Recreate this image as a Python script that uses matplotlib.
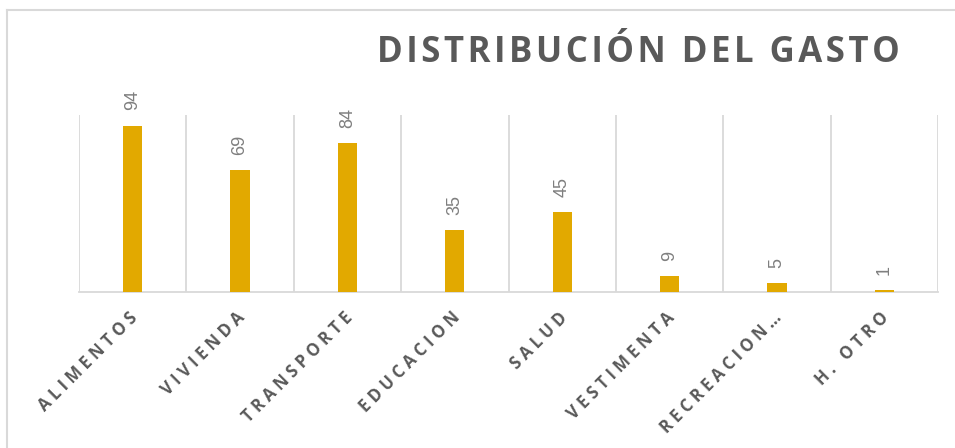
import numpy as np
import matplotlib.pyplot as plt
from matplotlib.lines import Line2D

# Datos del gráfico
categorias = ["ALIMENTOS", "VIVIENDA", "TRANSPORTE", "EDUCACION",
              "SALUD", "VESTIMENTA", "RECREACION…", "H. OTRO"]
gasto = [94, 69, 84, 35, 45, 9, 5, 1]
titulo = "DISTRIBUCIÓN DEL GASTO"

color_barra = "#E2A900"
color_texto = "#595959"
color_grid = "#D9D9D9"


def espaciar(texto, sep):
    # separa letras para imitar el espaciado de caracteres de Excel
    return sep.join(texto)


fig = plt.figure(figsize=(9.55, 4.48), dpi=100)
ax = fig.add_axes([79 / 955, 1 - 292 / 448, (938 - 79) / 955, (292 - 115) / 448])

x = np.arange(len(categorias))
barras = ax.bar(x, gasto, width=0.18, color=color_barra, zorder=3)

ax.set_xlim(-0.5, len(categorias) - 0.5)
ax.set_ylim(0, 100)

# Líneas verticales entre categorías
for b in np.arange(len(categorias) + 1) - 0.5:
    ax.axvline(b, color=color_grid, lw=1.3, zorder=1)

for s in ["top", "right", "left"]:
    ax.spines[s].set_visible(False)
ax.spines["bottom"].set_color(color_grid)
ax.spines["bottom"].set_linewidth(1.3)
ax.set_yticks([])

ax.set_xticks(x - 0.04)
ax.set_xticklabels([espaciar(c, " ") for c in categorias],
                   rotation=45, ha="right", va="top", rotation_mode="anchor",
                   fontsize=12, fontweight="bold", color=color_texto,
                   family=["Open Sans", "DejaVu Sans"])
ax.tick_params(axis="x", length=0, pad=12)

# Etiquetas de datos
for xi, v in zip(x, gasto):
    ax.annotate(str(v), (xi, v), xytext=(0, 11), textcoords="offset points",
                rotation=90, ha="center", va="bottom", fontsize=13,
                color="#7F7F7F", family=["Liberation Sans", "DejaVu Sans"])

fig.text(638 / 955, 1 - 53 / 448, espaciar(titulo, "\u200a"),
         ha="center", va="center", fontsize=25, fontweight="bold",
         color=color_texto, family=["Open Sans", "DejaVu Sans"])

# Borde del área del gráfico
fig.add_artist(Line2D([7 / 955, 7 / 955], [0, 1 - 10 / 448],
                      transform=fig.transFigure, color=color_grid, lw=1.5))
fig.add_artist(Line2D([7 / 955, 1], [1 - 10 / 448, 1 - 10 / 448],
                      transform=fig.transFigure, color=color_grid, lw=1.5))

fig.savefig("out.png", dpi=100)
